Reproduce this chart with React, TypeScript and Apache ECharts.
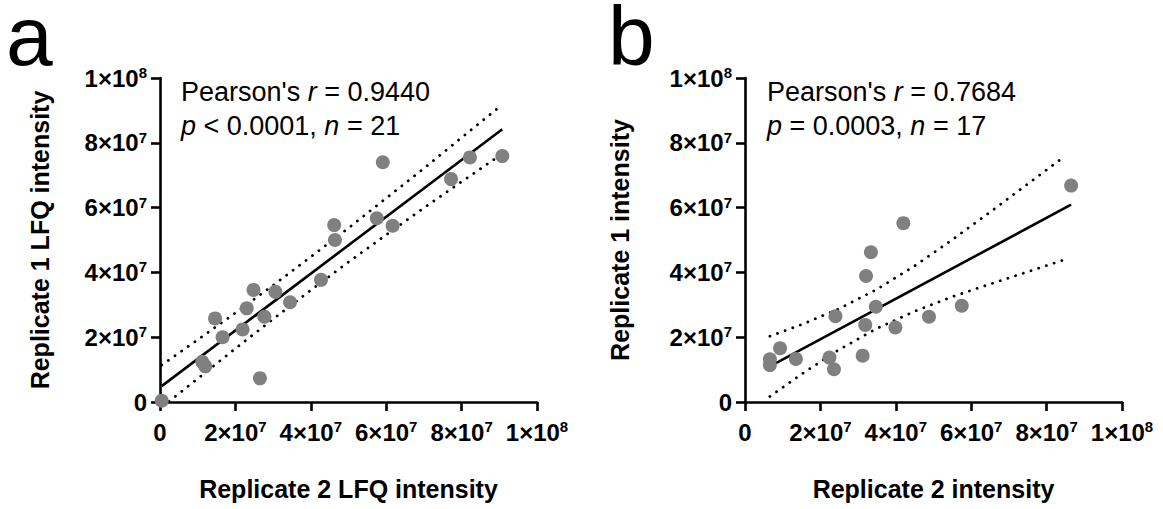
import React, { useEffect, useRef } from 'react';
import * as echarts from 'echarts';

const FONT = "'Liberation Sans', Arial, Helvetica, sans-serif";

// tick labels: mantissa and exponent (×10^exp)
const tickMantissa = ['0', '2', '4', '6', '8', '1'];
const tickExponent = ['', '7', '7', '7', '7', '8'];

// Panel a (values in millions)
const aX = [0.45, 11.2, 12.0, 14.6, 16.6, 21.9, 23.0, 24.8, 27.7, 26.5, 30.6, 34.5, 42.7, 46.2, 46.4, 57.5, 59.1, 61.7, 77.2, 82.2, 90.8];
const aY = [0.4, 12.4, 11.0, 25.8, 20.0, 22.4, 28.9, 34.6, 26.3, 7.3, 34.0, 30.8, 37.7, 54.6, 50.0, 56.7, 74.0, 54.4, 68.8, 75.5, 75.9];
const aFitX = [0.45, 90.8];
const aFitY = [4.9, 84.2];
const aUpperX = [0.45, 10, 20, 30, 40, 50, 60, 70, 80, 90.8];
const aUpperY = [11.4, 19.2, 27.5, 36.0, 44.8, 53.7, 62.9, 72.1, 81.6, 91.8];
const aLowerX = [2.4, 10, 20, 30, 40, 50, 60, 70, 80, 90.8];
const aLowerY = [0.2, 7.2, 16.5, 25.6, 34.5, 43.2, 51.6, 59.9, 68.0, 76.6];

// Panel b (values in millions)
const bX = [6.6, 6.6, 9.3, 13.5, 22.4, 23.6, 24.0, 31.2, 31.9, 32.1, 33.4, 34.7, 39.9, 42.0, 48.8, 57.5, 86.5];
const bY = [13.2, 11.4, 16.6, 13.3, 13.7, 10.1, 26.5, 14.3, 23.8, 38.9, 46.2, 29.4, 23.0, 55.2, 26.3, 29.7, 66.8];
const bFitX = [6.6, 86.5];
const bFitY = [11.0, 60.9];
const bUpperX = [6.6, 15, 25, 35, 45, 55, 65, 75, 85];
const bUpperY = [20.3, 23.9, 28.8, 34.8, 42.0, 50.1, 58.6, 67.3, 76.0];
const bLowerX = [6.6, 15, 25, 35, 45, 55, 65, 75, 85];
const bLowerY = [1.7, 8.6, 16.2, 22.7, 28.0, 32.5, 36.4, 40.2, 44.0];

const M = 1e6;
const pairs = (xs: number[], ys: number[]) => xs.map((x, i) => [x * M, ys[i] * M]);

const tickFormatter = (v: number) => {
  const i = Math.round(v / 2e7);
  if (!tickExponent[i]) return `{b|${tickMantissa[i]}}`;
  return `{b|${tickMantissa[i]}×10}{s|${tickExponent[i]}}`;
};

const labelRich = {
  b: { fontSize: 24, fontWeight: 'bold', fontFamily: FONT, color: '#000', lineHeight: 26 },
  s: { fontSize: 15, fontWeight: 'bold', fontFamily: FONT, color: '#000', verticalAlign: 'top', lineHeight: 15 },
};

const makeAxis = (gridIndex: number, isX: boolean, name: string, gap: number) => ({
  type: 'value',
  gridIndex,
  min: 0,
  max: 1e8,
  interval: 2e7,
  name,
  nameLocation: 'middle',
  nameGap: gap,
  nameTextStyle: { fontSize: 25, fontWeight: 'bold', fontFamily: FONT, color: '#000' },
  axisLine: { show: true, onZero: false, lineStyle: { color: '#000', width: 2.6 } },
  axisTick: { show: true, length: 9, lineStyle: { color: '#000', width: 2.6 } },
  splitLine: { show: false },
  axisLabel: {
    formatter: tickFormatter,
    rich: labelRich,
    margin: isX ? 17 : 13,
    color: '#000',
  },
});

const annot = (x: number, r: string, pRel: string, p: string, n: string) => ({
  type: 'text',
  left: x,
  top: 78,
  style: {
    text: `{n|Pearson's }{i|r}{n| = ${r}}\n{i|p}{n| ${pRel} ${p}, }{i|n}{n| = ${n}}`,
    rich: {
      n: { fontSize: 27, fontFamily: FONT, fill: '#000', lineHeight: 34 },
      i: { fontSize: 27, fontFamily: FONT, fontStyle: 'italic', fill: '#000', lineHeight: 34 },
    },
  },
});

const scatterSeries = (idx: number, xs: number[], ys: number[]) => ({
  type: 'scatter',
  xAxisIndex: idx,
  yAxisIndex: idx,
  data: pairs(xs, ys),
  symbolSize: 14,
  itemStyle: { color: '#808080', opacity: 1 },
  clip: false,
  z: 5,
});

const lineSeries = (idx: number, xs: number[], ys: number[], dotted: boolean) => ({
  type: 'line',
  xAxisIndex: idx,
  yAxisIndex: idx,
  data: pairs(xs, ys),
  showSymbol: false,
  symbol: 'none',
  clip: false,
  lineStyle: dotted
    ? { color: '#000', width: 2.8, type: [0.1, 8], cap: 'round' }
    : { color: '#000', width: 2.6 },
  z: 3,
});

export default function App() {
  const ref = useRef<HTMLDivElement>(null);
  useEffect(() => {
    if (!ref.current) return;
    const chart = echarts.init(ref.current, null, { renderer: 'svg' });
    chart.setOption({
      animation: false,
      backgroundColor: '#fff',
      textStyle: { fontFamily: FONT },
      grid: [
        { left: 160, top: 78, width: 377, height: 324 },
        { left: 745, top: 78, width: 377, height: 324 },
      ],
      xAxis: [
        makeAxis(0, true, 'Replicate 2 LFQ intensity', 74),
        makeAxis(1, true, 'Replicate 2 intensity', 74),
      ],
      yAxis: [
        makeAxis(0, false, 'Replicate 1 LFQ intensity', 108),
        makeAxis(1, false, 'Replicate 1 intensity', 113),
      ],
      series: [
        lineSeries(0, aUpperX, aUpperY, true),
        lineSeries(0, aLowerX, aLowerY, true),
        lineSeries(0, aFitX, aFitY, false),
        scatterSeries(0, aX, aY),
        lineSeries(1, bUpperX, bUpperY, true),
        lineSeries(1, bLowerX, bLowerY, true),
        lineSeries(1, bFitX, bFitY, false),
        scatterSeries(1, bX, bY),
      ],
      graphic: [
        {
          type: 'text', left: 6, top: -6,
          style: { text: 'a', fontSize: 84, lineHeight: 72, fontFamily: FONT, fill: '#000' },
        },
        {
          type: 'text', left: 608, top: -6,
          style: { text: 'b', fontSize: 84, lineHeight: 72, fontFamily: FONT, fill: '#000' },
        },
        annot(181, '0.9440', '<', '0.0001', '21'),
        annot(767, '0.7684', '=', '0.0003', '17'),
      ],
    });
    return () => chart.dispose();
  }, []);
  return (
    <div
      ref={ref}
      style={{ position: 'fixed', left: 0, top: 0, width: 1163, height: 509, background: '#fff' }}
    />
  );
}
